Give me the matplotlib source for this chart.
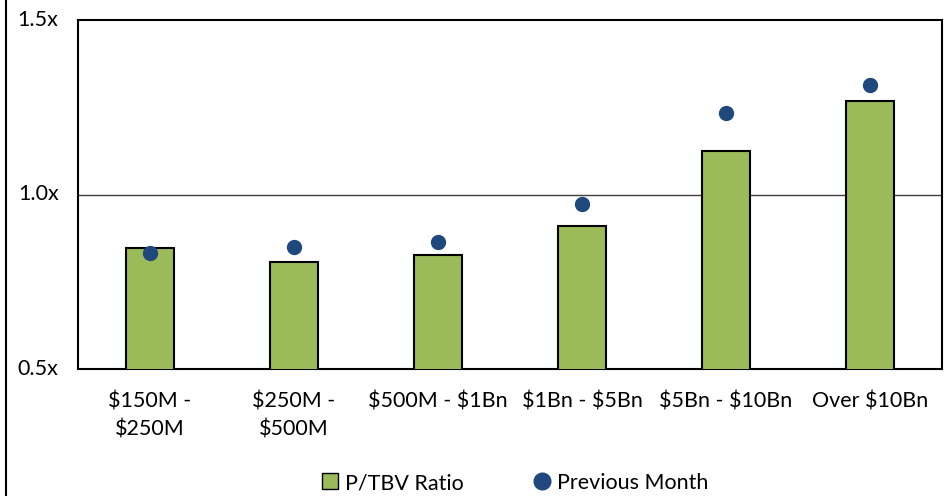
import numpy as np
import matplotlib.pyplot as plt
from matplotlib.lines import Line2D

plt.rcParams['font.family'] = ['Lato', 'DejaVu Sans']
plt.rcParams['text.parse_math'] = False

categories = ['$150M -\n$250M', '$250M -\n$500M', '$500M - $1Bn', '$1Bn - $5Bn', '$5Bn - $10Bn', 'Over $10Bn']
ratio = [0.846, 0.806, 0.826, 0.909, 1.126, 1.269]
prev_month = [0.831, 0.851, 0.863, 0.974, 1.234, 1.314]

green = '#9BBB59'
blue = '#1F497D'

fig = plt.figure(figsize=(9.51, 4.96), dpi=100)
ax = fig.add_axes([78/951, 1 - 369/496, 864/951, 349/496])

x = np.arange(len(categories))
ax.bar(x, ratio, width=0.333, bottom=0, color=green, edgecolor='black', linewidth=1.5,
       label='P/TBV Ratio', zorder=3)
ax.plot(x, prev_month, 'o', color=blue, markersize=10, linestyle='none',
        label='Previous Month', zorder=4)
ax.axhline(1.0, color='#404040', linewidth=1, zorder=1)

ax.set_ylim(0.5, 1.5)
ax.set_xlim(-0.5, len(categories) - 0.5)
ax.set_yticks([0.5, 1.0, 1.5])
ax.set_yticklabels(['0.5x', '1.0x', '1.5x'])
ax.set_xticks(x)
ax.set_xticklabels(categories, linespacing=1.5)
ax.tick_params(axis='both', length=0, labelsize=15.5, colors='black')
ax.tick_params(axis='x', pad=16)
ax.tick_params(axis='y', pad=14)
for lab in ax.get_yticklabels():
    lab.set_verticalalignment('center')
for s in ax.spines.values():
    s.set_linewidth(1.5)
    s.set_color('black')

handles = [
    Line2D([], [], marker='s', color='none', markerfacecolor=green, markeredgecolor='black',
           markersize=12, label='P/TBV Ratio'),
    Line2D([], [], marker='o', color='none', markerfacecolor=blue, markeredgecolor=blue,
           markersize=12, label='Previous Month'),
]
fig.legend(handles=handles, loc='center', bbox_to_anchor=(515/951, 1 - 483/496), ncol=2,
           frameon=False, fontsize=15.5, handlelength=0.8, handletextpad=0.3, columnspacing=3.2)

fig.add_artist(Line2D([6/951, 6/951], [0, 1], color='black', linewidth=1.5))

fig.savefig('out.png', dpi=100)
